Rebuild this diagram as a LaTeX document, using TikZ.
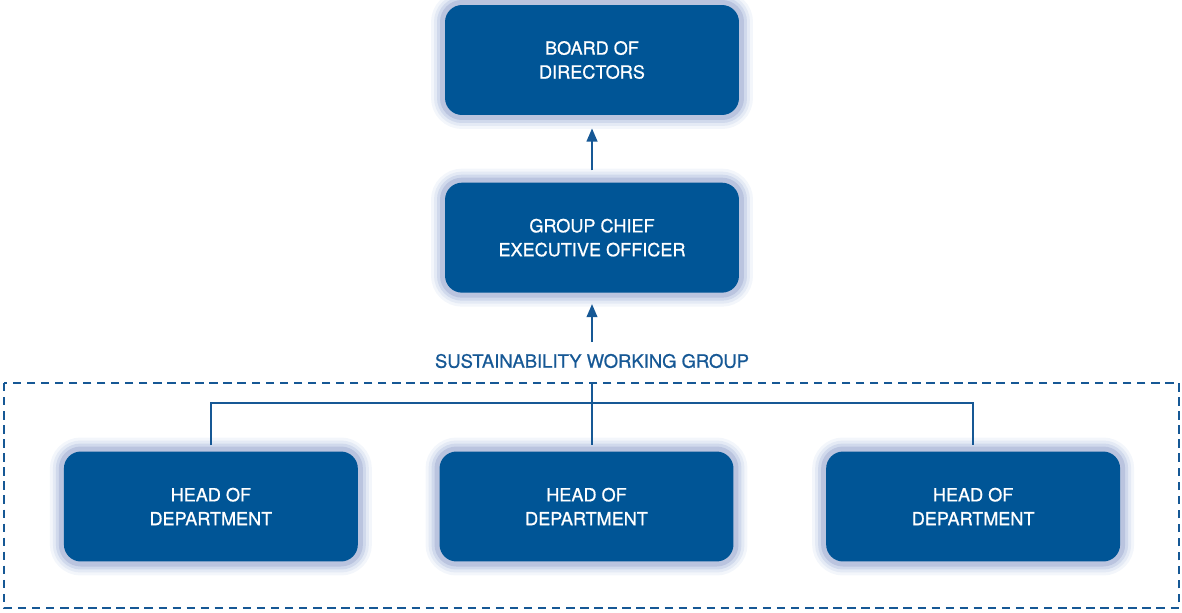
\documentclass[tikz,border=0pt]{standalone}
\usepackage{fontspec}
\setmainfont{TeX Gyre Heros}
\newfontfamily\orgfont[FakeBold=0.7]{TeX Gyre Heros}
\usetikzlibrary{positioning,arrows.meta}

\definecolor{boxblue}{HTML}{005596}
\definecolor{halo}{HTML}{BAC4DF}
\definecolor{glowa}{HTML}{D0D9EC}
\definecolor{glowb}{HTML}{E4EAF5}
\definecolor{glowc}{HTML}{F3F6FB}
\definecolor{lineblue}{HTML}{165895}

\tikzset{
    orgbox/.style={rectangle, rounded corners=0.34cm, fill=boxblue, text=white,
        align=center, inner sep=0pt, minimum width=5.88cm, minimum height=2.2cm,
        font=\orgfont\fontsize{10.3}{13.6}\selectfont,
        preaction={draw=glowc, line width=15.9pt},
        preaction={draw=glowb, line width=12.5pt},
        preaction={draw=glowa, line width=9.1pt},
        preaction={draw=halo, line width=5.7pt}},
    uparrow/.style={draw=lineblue, line width=1.3pt,
        -{Triangle[length=7.5pt,width=6pt]}},
    treeline/.style={draw=lineblue, line width=1.3pt},
    grpline/.style={draw=lineblue, line width=1.6pt, dash pattern=on 4.8pt off 3.2pt}
}

\begin{document}
\begin{tikzpicture}[x=0.02cm, y=-0.02cm]
        \useasboundingbox (0,0) rectangle (1182,612);
        \node[orgbox] (board) at (592,60) {BOARD OF\\DIRECTORS};
        \node[orgbox, below=1.34cm of board] (gceo) {GROUP CHIEF\\EXECUTIVE OFFICER};
        \node[text=lineblue, inner sep=0pt, font=\orgfont\fontsize{10.5}{12}\selectfont]
            (swg) at (592,361) {SUSTAINABILITY WORKING GROUP};
        \node[orgbox] (hod2) at (586.5,506.5) {HEAD OF\\DEPARTMENT};
        \node[orgbox, left=1.62cm of hod2] (hod1) {HEAD OF\\DEPARTMENT};
        \node[orgbox, right=1.84cm of hod2] (hod3) {HEAD OF\\DEPARTMENT};
        \coordinate (swtop) at (592,383);
        \coordinate (join) at (592,403);

        \draw[uparrow, shorten <=0.24cm, shorten >=0.26cm] (gceo.north) -- (board.south);
        \draw[uparrow, shorten <=0.23cm, shorten >=0.22cm] (swg.north) -- (gceo.south);

        \draw[grpline] (4,383) rectangle (1179,608);
        \draw[treeline, shorten >=0.12cm] (swtop) -- (swtop |- hod2.north);
        \draw[treeline, shorten <=0.12cm, shorten >=0.12cm]
            (hod1.north) -- (hod1.north |- join) -- (hod3.north |- join) -- (hod3.north);
\end{tikzpicture}
\end{document}
